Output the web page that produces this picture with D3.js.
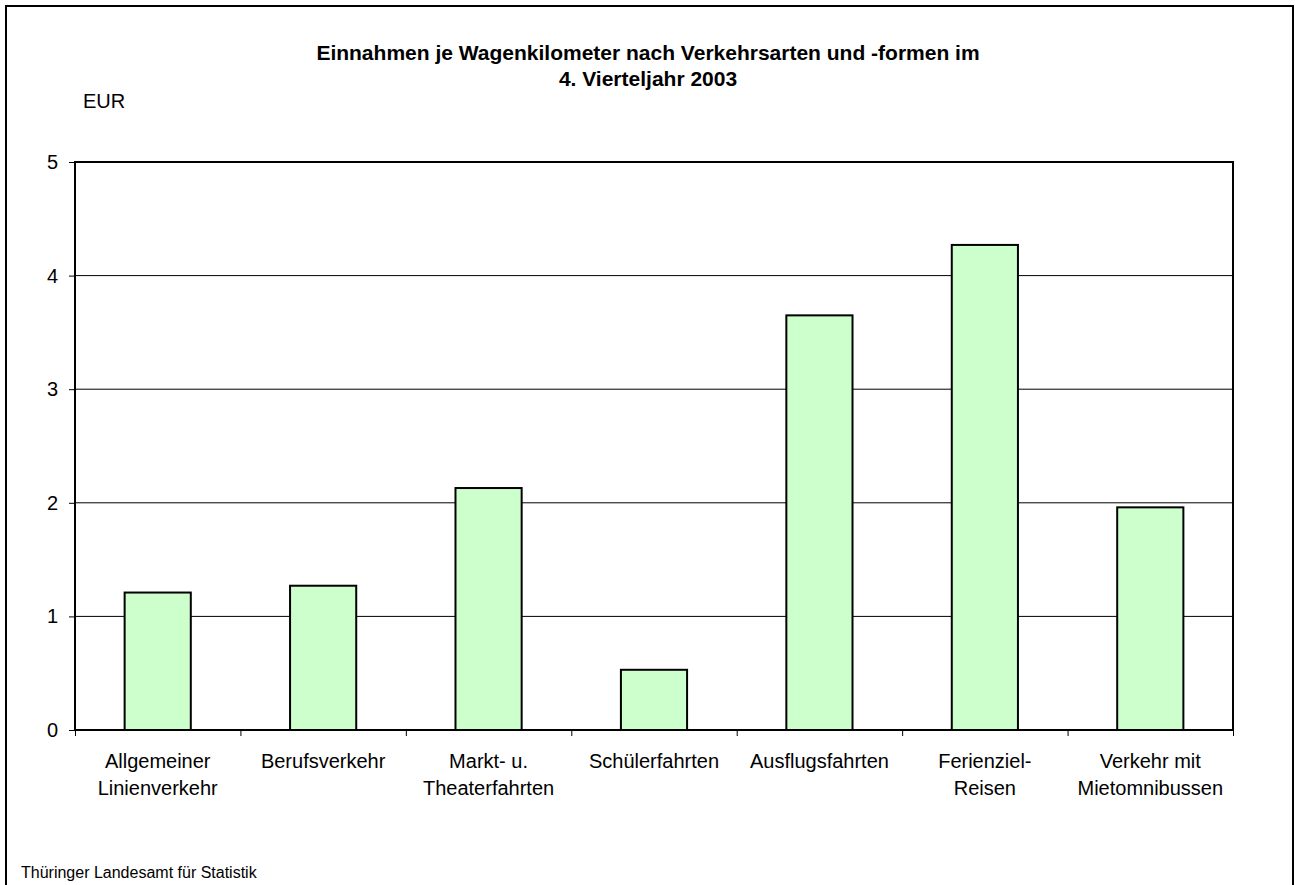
<!DOCTYPE html>
<meta charset="utf-8">
<title>Einnahmen je Wagenkilometer</title>
<script src="https://cdn.jsdelivr.net/npm/d3@7"></script>
<style>
    body { margin: 0; background: #fff; }
    text { font-family: "Liberation Sans", Arial, sans-serif; fill: #000; }
</style>
<svg width="1295" height="885"></svg>
<script>
    // data
    const categories = [
        ["Allgemeiner", "Linienverkehr"],
        ["Berufsverkehr"],
        ["Markt- u.", "Theaterfahrten"],
        ["Schülerfahrten"],
        ["Ausflugsfahrten"],
        ["Ferienziel-", "Reisen"],
        ["Verkehr mit", "Mietomnibussen"]
    ];
    const values = [1.21, 1.27, 2.13, 0.53, 3.65, 4.27, 1.96];
    const yTicks = [0, 1, 2, 3, 4, 5];

    const svg = d3.select("svg");
    const margin = { top: 162, right: 62, bottom: 155, left: 75 };
    const chartWidth = 1295 - margin.left - margin.right;
    const chartHeight = 885 - margin.top - margin.bottom;

    // outer frame
    svg.append("rect")
        .attr("x", 6).attr("y", 6)
        .attr("width", 1287).attr("height", 890)
        .attr("fill", "none").attr("stroke", "#000").attr("stroke-width", 2);

    // title
    svg.append("text")
        .attr("x", 648).attr("y", 60)
        .attr("text-anchor", "middle")
        .style("font-weight", "bold").style("font-size", "21px")
        .text("Einnahmen je Wagenkilometer nach Verkehrsarten und -formen im");
    svg.append("text")
        .attr("x", 648).attr("y", 86)
        .attr("text-anchor", "middle")
        .style("font-weight", "bold").style("font-size", "21px")
        .text("4. Vierteljahr 2003");

    svg.append("text")
        .attr("x", 83).attr("y", 108)
        .style("font-size", "20px")
        .text("EUR");

    svg.append("text")
        .attr("x", 21).attr("y", 878)
        .style("font-size", "16px")
        .text("Thüringer Landesamt für Statistik");

    const idx = d3.range(categories.length);

    const x = d3.scaleBand()
        .domain(idx)
        .range([0, chartWidth])
        .paddingInner(0.6)
        .paddingOuter(0.3);

    const xEdge = d3.scaleLinear()
        .domain([0, categories.length])
        .range([0, chartWidth]);

    const y = d3.scaleLinear()
        .domain([0, 5])
        .range([chartHeight, 0]);

    const g = svg.append("g")
        .attr("transform", `translate(${margin.left},${margin.top})`);

    // gridlines
    g.append("g")
        .selectAll("line")
        .data(yTicks.slice(1, -1))
        .join("line")
        .attr("x1", 0).attr("x2", chartWidth)
        .attr("y1", d => y(d)).attr("y2", d => y(d))
        .attr("stroke", "#000").attr("stroke-width", 1);

    // bars
    g.selectAll(".bar")
        .data(values)
        .join("rect")
        .attr("class", "bar")
        .attr("x", (d, i) => x(i))
        .attr("y", d => y(d))
        .attr("width", x.bandwidth())
        .attr("height", d => chartHeight - y(d))
        .attr("fill", "#ccffcc")
        .attr("stroke", "#000")
        .attr("stroke-width", 2);

    // plot frame
    g.append("rect")
        .attr("width", chartWidth).attr("height", chartHeight)
        .attr("fill", "none").attr("stroke", "#000").attr("stroke-width", 2);

    // y axis
    const yAxis = g.append("g")
        .call(d3.axisLeft(y).tickValues(yTicks).tickFormat(d3.format("d")).tickSize(6).tickPadding(11));
    yAxis.select(".domain").remove();
    yAxis.selectAll("line").attr("stroke", "#000");
    yAxis.selectAll("text")
        .style("font-size", "20px")
        .style("font-family", "'Liberation Sans', Arial, sans-serif");

    // x axis ticks at category boundaries
    const xAxis = g.append("g")
        .attr("transform", `translate(0,${chartHeight})`)
        .call(d3.axisBottom(xEdge).tickValues(d3.range(categories.length + 1)).tickSize(6).tickFormat(""));
    xAxis.select(".domain").remove();
    xAxis.selectAll("line").attr("stroke", "#000");

    // x labels
    const labels = g.append("g")
        .selectAll("text")
        .data(categories)
        .join("text")
        .attr("x", (d, i) => x(i) + x.bandwidth() / 2)
        .attr("y", chartHeight + 38)
        .attr("text-anchor", "middle")
        .style("font-size", "20px");
    labels.selectAll("tspan")
        .data(d => d)
        .join("tspan")
        .attr("x", function () { return this.parentNode.getAttribute("x"); })
        .attr("dy", (d, i) => i === 0 ? 0 : 27)
        .text(d => d);
</script>
